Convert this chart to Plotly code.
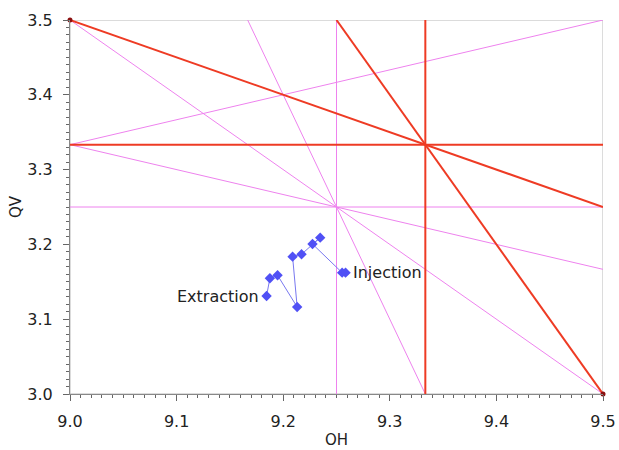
import plotly.graph_objects as go

# Tune path data (OH, QV), from Extraction to Injection
oh = [9.1844, 9.1875, 9.1947, 9.2131, 9.2088, 9.2172, 9.2347, 9.2275, 9.2553, 9.2585]
qv = [3.1310, 3.1547, 3.1587, 3.1163, 3.1836, 3.1868, 3.2090, 3.2005, 3.1622, 3.1622]

# Resonance lines a*OH + b*QV = c
third_order = [(1, 0, 28 / 3), (0, 1, 10 / 3), (1, 2, 16), (2, 1, 22)]
fourth_order = [(1, 0, 9.25), (0, 1, 3.25), (1, 1, 12.5), (1, -3, -1), (1, 3, 19), (3, 1, 31)]

x_range = [9.0, 9.5]
y_range = [3.0, 3.5]
x_ticks = [9.0, 9.1, 9.2, 9.3, 9.4, 9.5]
y_ticks = [3.0, 3.1, 3.2, 3.3, 3.4, 3.5]


def clip_line(a, b, c):
    pts = []
    eps = 1e-9
    if b != 0:
        for x in x_range:
            y = (c - a * x) / b
            if y_range[0] - eps <= y <= y_range[1] + eps:
                pts.append((x, y))
    if a != 0:
        for y in y_range:
            x = (c - b * y) / a
            if x_range[0] - eps <= x <= x_range[1] + eps:
                pts.append((x, y))
    uniq = []
    for p in pts:
        if not any(abs(p[0] - q[0]) < 1e-6 and abs(p[1] - q[1]) < 1e-6 for q in uniq):
            uniq.append(p)
    return uniq[:2]


fig = go.Figure()

for (a, b, c) in fourth_order:
    seg = clip_line(a, b, c)
    fig.add_trace(go.Scatter(x=[p[0] for p in seg], y=[p[1] for p in seg], mode="lines",
                             line=dict(color="#ee82ee", width=1), hoverinfo="skip",
                             showlegend=False))

for (a, b, c) in third_order:
    seg = clip_line(a, b, c)
    fig.add_trace(go.Scatter(x=[p[0] for p in seg], y=[p[1] for p in seg], mode="lines",
                             line=dict(color="#ee3b24", width=2), hoverinfo="skip",
                             showlegend=False))

# corner end markers
fig.add_trace(go.Scatter(x=[x_range[0], x_range[1]], y=[y_range[1], y_range[0]], mode="markers",
                         marker=dict(color="#8b1010", size=5), cliponaxis=False,
                         hoverinfo="skip", showlegend=False))

fig.add_trace(go.Scatter(x=oh, y=qv, mode="lines+markers",
                         line=dict(color="#7878f0", width=1),
                         marker=dict(symbol="diamond", size=8, color="#5050f5"),
                         showlegend=False))

font_family = "DejaVu Sans"
fig.add_annotation(x=oh[0], y=qv[0], text="Extraction", showarrow=False, xanchor="right",
                   xshift=-6, font=dict(family=font_family, size=16, color="#222"))
fig.add_annotation(x=oh[-1], y=qv[-1], text="Injection", showarrow=False, xanchor="left",
                   xshift=5, font=dict(family=font_family, size=16, color="#222"))

fig.add_shape(type="rect", xref="x", yref="y", x0=x_range[0], x1=x_range[1],
              y0=y_range[0], y1=y_range[1], line=dict(color="#b8b8b8", width=1), layer="below")

axis_common = dict(showgrid=False, zeroline=False, showline=True, linecolor="#888",
                   linewidth=1, ticks="outside", ticklen=6, tickcolor="#666",
                   tickfont=dict(family=font_family, size=16, color="#222"),
                   tickformat=".1f")

fig.update_xaxes(range=x_range, tickvals=x_ticks,
                 minor=dict(dtick=0.01, ticks="outside", ticklen=3, tickcolor="#666"),
                 ticklabelstandoff=7,
                 title=dict(text="OH", font=dict(family=font_family, size=15, color="#222"),
                            standoff=4),
                 **axis_common)
fig.update_yaxes(range=y_range, tickvals=y_ticks,
                 minor=dict(dtick=0.01, ticks="outside", ticklen=3, tickcolor="#666"),
                 ticklabelstandoff=7,
                 title=dict(text="QV", font=dict(family=font_family, size=15, color="#222"),
                            standoff=2),
                 **axis_common)

fig.update_layout(width=619, height=450, margin=dict(l=70, r=16, t=20, b=56, autoexpand=False),
                  plot_bgcolor="white", paper_bgcolor="white",
                  font=dict(family=font_family))

fig.write_html("out.html")
